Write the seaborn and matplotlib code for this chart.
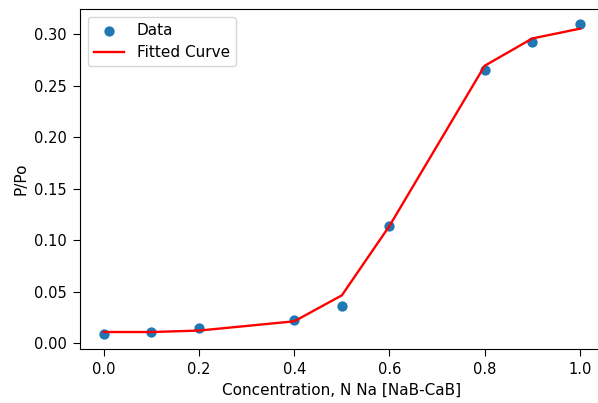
import numpy as np
import pandas as pd
import seaborn as sns
import matplotlib
matplotlib.use("Agg")
import matplotlib.pyplot as plt

# measured data
conc = [0.0, 0.1, 0.2, 0.4, 0.5, 0.6, 0.8, 0.9, 1.0]
p_po = [0.0094, 0.0107, 0.0149, 0.0223, 0.0360, 0.1136, 0.2657, 0.2925, 0.3097]

# fitted curve at same concentrations
p_fit = [0.0110, 0.0110, 0.0124, 0.0214, 0.0466, 0.1140, 0.2695, 0.2960, 0.3055]

df = pd.DataFrame({"conc": conc, "p_po": p_po, "p_fit": p_fit})

plt.rcParams["font.size"] = 10.5

fig = plt.figure(figsize=(5.98, 4.03), dpi=100)
ax = fig.add_axes([0.1338, 0.1337, 0.8757, 0.8442])

sns.scatterplot(data=df, x="conc", y="p_po", ax=ax, color="#1f77b4",
                s=55, linewidth=0, label="Data")
sns.lineplot(data=df, x="conc", y="p_fit", ax=ax, color="red",
             linewidth=1.7, label="Fitted Curve")

ax.set_xlim(-0.05, 1.05)
ax.set_ylim(-0.0056, 0.3247)
ax.set_xticks([0.0, 0.2, 0.4, 0.6, 0.8, 1.0])
ax.set_yticks([0.0, 0.05, 0.10, 0.15, 0.20, 0.25, 0.30])
ax.tick_params(length=5, pad=4.5)
ax.set_xlabel("Concentration, N Na [NaB-CaB]", fontsize=11)
ax.set_ylabel("P/Po", fontsize=11)
ax.spines["right"].set_visible(False)
ax.legend(loc="upper left", fontsize=11)

fig.savefig("out.png", dpi=100)
